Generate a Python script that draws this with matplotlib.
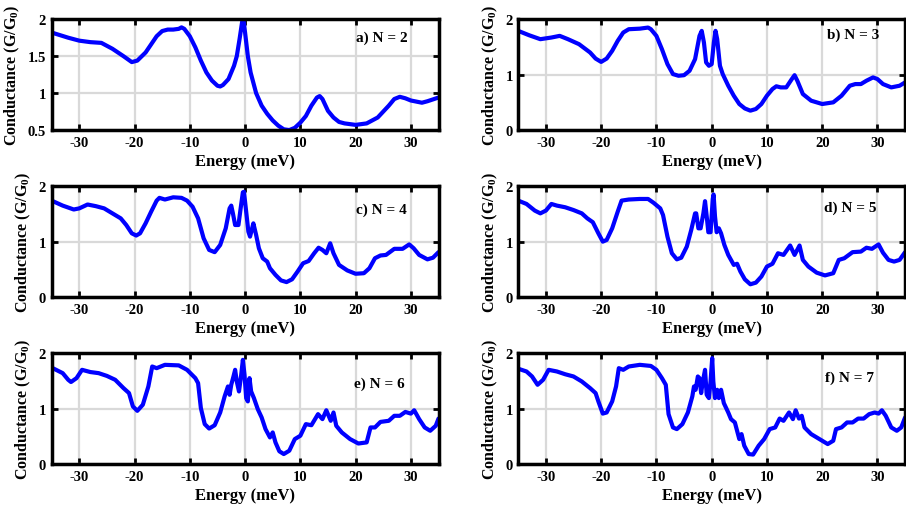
import matplotlib
matplotlib.use("Agg")
import matplotlib.pyplot as plt
import numpy as np

plt.rcParams['font.family'] = 'Liberation Serif'
plt.rcParams['font.weight'] = 'bold'
plt.rcParams['axes.unicode_minus'] = False
plt.rcParams['mathtext.fontset'] = 'custom'
plt.rcParams['mathtext.rm'] = 'Liberation Serif:bold'
plt.rcParams['mathtext.it'] = 'Liberation Serif:bold'
plt.rcParams['mathtext.bf'] = 'Liberation Serif:bold'

# conductance traces, energy in meV, G in units of G0
e_n2 = [-35, -32, -30, -28, -26, -24, -22, -20.5, -19.5, -18, -16, -15, -14, -13, -12, -11.5, -11,
        -10, -9, -8, -7, -6, -5, -4.5, -4, -3, -2, -1.5, -1, -0.5, -0.3, 0, 0.5, 1, 2, 3, 4, 5, 6,
        7, 8, 9, 10, 11, 12, 13, 13.5, 14, 15, 16, 17, 18, 20, 22, 24, 26, 27, 28, 29, 30, 32, 33, 35]
g_n2 = [1.82, 1.75, 1.71, 1.69, 1.68, 1.60, 1.50, 1.42, 1.44, 1.55, 1.77, 1.84, 1.86, 1.86, 1.87,
        1.89, 1.87, 1.77, 1.62, 1.44, 1.28, 1.17, 1.10, 1.09, 1.11, 1.19, 1.37, 1.50, 1.73, 1.98,
        2.00, 1.82, 1.50, 1.28, 1.00, 0.83, 0.72, 0.63, 0.56, 0.51, 0.50, 0.53, 0.60, 0.69, 0.83,
        0.94, 0.96, 0.92, 0.76, 0.67, 0.61, 0.59, 0.57, 0.59, 0.67, 0.83, 0.92, 0.95, 0.93, 0.90,
        0.87, 0.89, 0.94]

e_n3 = [-35, -33, -31, -29, -27.5, -26, -24, -22, -21, -20, -19, -18, -17, -16, -15, -13, -11.5,
        -11, -10, -9, -8, -7, -6, -5, -4, -3, -2.2, -1.8, -1.4, -1, -0.5, 0, 0.4, 0.7, 1, 1.5, 2,
        3, 4, 5, 6, 7, 8, 9, 10, 11, 11.7, 12.5, 13.5, 14.5, 15, 15.5, 16.5, 18, 20, 22, 23.5, 25,
        26, 27, 28, 29.2, 30, 31, 32.5, 34, 35]
g_n3 = [1.79, 1.71, 1.64, 1.67, 1.70, 1.64, 1.55, 1.40, 1.29, 1.23, 1.29, 1.43, 1.61, 1.76, 1.82,
        1.83, 1.85, 1.82, 1.70, 1.46, 1.19, 1.01, 0.98, 0.99, 1.07, 1.28, 1.70, 1.79, 1.58, 1.22,
        1.16, 1.19, 1.58, 1.79, 1.64, 1.16, 1.01, 0.80, 0.62, 0.47, 0.39, 0.35, 0.38, 0.47, 0.62,
        0.74, 0.79, 0.77, 0.77, 0.92, 0.99, 0.89, 0.65, 0.53, 0.47, 0.50, 0.62, 0.80, 0.83, 0.83,
        0.89, 0.95, 0.92, 0.83, 0.77, 0.80, 0.86]

e_n4 = [-35, -33, -31, -30, -28.5, -27, -25.5, -24, -22.5, -21.5, -20.5, -19.7, -19, -18, -17, -16,
        -15.5, -14.5, -13, -11.5, -10.5, -9.5, -8.5, -7.5, -6.5, -5.5, -4.5, -3.5, -2.8, -2.5, -2.2,
        -1.8, -1.2, -0.8, -0.4, -0.2, 0.2, 0.6, 0.9, 1.2, 1.5, 2, 2.5, 3.2, 4, 4.5, 5.5, 6.5, 7.5,
        8.5, 9.5, 10.5, 11.5, 12.5, 13.3, 14, 14.7, 15.4, 16, 17, 18.5, 20, 21.5, 22.5, 23.5, 24.5,
        25.5, 27, 28.5, 29.7, 30.5, 31.5, 33, 34, 35]
g_n4 = [1.74, 1.65, 1.58, 1.60, 1.67, 1.64, 1.60, 1.51, 1.42, 1.30, 1.15, 1.11, 1.15, 1.33, 1.54,
        1.74, 1.79, 1.76, 1.80, 1.79, 1.74, 1.63, 1.42, 1.06, 0.85, 0.81, 0.94, 1.24, 1.60, 1.65,
        1.51, 1.30, 1.30, 1.60, 1.89, 1.90, 1.54, 1.18, 1.09, 1.21, 1.33, 1.12, 0.88, 0.70, 0.64,
        0.52, 0.40, 0.30, 0.27, 0.32, 0.46, 0.61, 0.65, 0.79, 0.89, 0.85, 0.79, 0.97, 0.79, 0.58,
        0.48, 0.42, 0.43, 0.52, 0.70, 0.75, 0.76, 0.87, 0.87, 0.95, 0.88, 0.76, 0.68, 0.71, 0.81]

e_n5 = [-35, -33.5, -32, -31, -30, -29, -28, -26.5, -25, -23.5, -22.5, -21.5, -20.5, -19.7, -19,
        -18, -17, -16.3, -15, -13, -11.5, -10.5, -9.3, -8.8, -8, -7.2, -6.3, -5.5, -4.5, -3.7, -3,
        -2.8, -2.4, -2, -1.5, -1.2, -0.9, -0.6, -0.2, 0.2, 0.35, 0.6, 0.9, 1.3, 1.7, 2.3, 3, 4, 4.6,
        5.2, 6, 7, 8, 9, 10, 11, 12, 13, 14.2, 15, 15.9, 16.5, 17.5, 19, 20.5, 22, 23, 24, 25.5, 27,
        28, 29, 30.2, 31, 32, 33, 34, 35]
g_n5 = [1.74, 1.68, 1.56, 1.51, 1.56, 1.68, 1.65, 1.62, 1.57, 1.51, 1.42, 1.35, 1.15, 1.00, 1.03,
        1.24, 1.54, 1.74, 1.76, 1.77, 1.77, 1.70, 1.60, 1.48, 1.09, 0.79, 0.68, 0.71, 0.91, 1.21,
        1.51, 1.51, 1.24, 1.24, 1.51, 1.73, 1.46, 1.17, 1.17, 1.77, 1.85, 1.46, 1.17, 1.24, 1.15,
        0.94, 0.76, 0.58, 0.60, 0.46, 0.32, 0.23, 0.26, 0.37, 0.55, 0.60, 0.79, 0.76, 0.93, 0.76,
        0.93, 0.67, 0.55, 0.44, 0.39, 0.43, 0.67, 0.70, 0.81, 0.82, 0.89, 0.87, 0.95, 0.80, 0.67,
        0.64, 0.67, 0.81]

e_n6 = [-35, -33, -32, -31.5, -30.5, -29.5, -28, -26.5, -25, -23.5, -22, -21, -20.3, -19.5, -18.5,
        -17.5, -16.8, -16, -14.5, -12, -10.5, -9, -8.5, -8, -7.3, -6.5, -5.5, -4.5, -3.7, -3.1,
        -2.8, -2.5, -2.1, -1.8, -1.5, -1.1, -0.7, -0.4, -0.1, 0.2, 0.5, 0.8, 1.1, 1.6, 2.3, 3, 3.7,
        4.5, 5, 5.5, 6.2, 7, 8, 9, 10, 11, 12, 13.2, 14, 14.7, 15.5, 16, 16.5, 17.5, 19, 20.5, 22,
        22.7, 23.5, 24.5, 26, 27, 28, 29, 30, 30.6, 31.5, 32.5, 33.5, 34.5, 35]
g_n6 = [1.74, 1.64, 1.52, 1.48, 1.55, 1.70, 1.66, 1.64, 1.59, 1.52, 1.37, 1.28, 1.04, 0.96, 1.07,
        1.40, 1.76, 1.73, 1.79, 1.78, 1.70, 1.55, 1.46, 1.01, 0.72, 0.64, 0.70, 0.93, 1.22, 1.40,
        1.25, 1.43, 1.58, 1.70, 1.49, 1.31, 1.61, 1.88, 1.61, 1.19, 1.13, 1.55, 1.31, 1.19, 0.99,
        0.84, 0.63, 0.48, 0.57, 0.39, 0.23, 0.18, 0.24, 0.45, 0.51, 0.72, 0.70, 0.90, 0.81, 0.97,
        0.78, 0.93, 0.69, 0.57, 0.45, 0.37, 0.39, 0.66, 0.66, 0.76, 0.78, 0.87, 0.87, 0.94, 0.91,
        0.97, 0.81, 0.66, 0.60, 0.69, 0.82]

e_n7 = [-35, -33.5, -32.5, -31.5, -30.5, -29.5, -28, -26.5, -25, -23.5, -22, -21, -20.5, -19.7, -19,
        -18, -17.3, -16.8, -16, -15, -13, -11, -10, -9, -8.3, -7.8, -7, -6.3, -5.3, -4.3, -3.5,
        -3.2, -2.9, -2.5, -2.2, -1.9, -1.6, -1.2, -0.9, -0.5, -0.2, 0.1, 0.3, 0.6, 1, 1.3, 1.7,
        2.2, 3, 3.5, 4.2, 5, 5.4, 5.9, 6.7, 7.5, 8.5, 9.5, 10.5, 11.5, 12.3, 13, 14, 14.7, 15.2,
        15.8, 16.3, 16.8, 18, 19.5, 21, 22, 22.5, 23.5, 24.5, 25.5, 26.5, 27.5, 28.5, 29.5, 30.2,
        30.8, 31.5, 32.5, 33.5, 34.3, 35]
g_n7 = [1.72, 1.67, 1.58, 1.43, 1.52, 1.70, 1.67, 1.62, 1.58, 1.49, 1.37, 1.28, 1.13, 0.91, 0.93,
        1.13, 1.40, 1.73, 1.70, 1.76, 1.79, 1.77, 1.70, 1.55, 1.43, 0.90, 0.66, 0.63, 0.72, 0.93,
        1.22, 1.40, 1.34, 1.58, 1.55, 1.28, 1.49, 1.70, 1.25, 1.19, 1.49, 1.91, 1.49, 1.19, 1.34,
        1.19, 1.34, 1.10, 0.93, 0.81, 0.75, 0.45, 0.54, 0.33, 0.18, 0.17, 0.33, 0.45, 0.63, 0.66,
        0.82, 0.78, 0.93, 0.81, 0.97, 0.82, 0.87, 0.66, 0.54, 0.45, 0.36, 0.42, 0.63, 0.66, 0.75,
        0.75, 0.82, 0.82, 0.90, 0.93, 0.91, 0.97, 0.87, 0.66, 0.60, 0.66, 0.84]

energies = [e_n2, e_n3, e_n4, e_n5, e_n6, e_n7]
conductances = [g_n2, g_n3, g_n4, g_n5, g_n6, g_n7]
panel_labels = ["a) N = 2", "b) N = 3", "c) N = 4", "d) N = 5", "e) N = 6", "f) N = 7"]

# label placement (energy, fraction of axes height) for each panel
label_pos = [(20, 0.84), (20.9, 0.86), (20, 0.79), (20.4, 0.81), (19.7, 0.73), (20.5, 0.78)]

fig = plt.figure(figsize=(9.06, 5.06), dpi=100)
lefts = [0.057, 0.572]
bottoms = [0.741, 0.411, 0.081]

for i in range(6):
    row, col = i // 2, i % 2
    ax = fig.add_axes([lefts[col], bottoms[row], 0.427, 0.219])
    ax.plot(np.array(energies[i]), np.array(conductances[i]), color='#0000ff', lw=3,
            solid_joinstyle='round', solid_capstyle='round')
    ax.set_xlim(-35, 35)
    ax.set_xticks([-30, -20, -10, 0, 10, 20, 30])
    if i == 0:
        ax.set_ylim(0.5, 2)
        ax.set_yticks([0.5, 1, 1.5, 2])
        ax.set_yticklabels(['0.5', '1', '1.5', '2'])
    else:
        ax.set_ylim(0, 2)
        ax.set_yticks([0, 1, 2])
    ax.grid(True, color='#d9d9d9', lw=1.6)
    ax.set_axisbelow(True)
    ax.tick_params(direction='in', length=4, width=2, top=True, right=True,
                   labelsize=10.5, pad=4)
    for sp in ax.spines.values():
        sp.set_linewidth(2.5)
    ax.set_xlabel("Energy (meV)", fontsize=12, fontweight='bold', labelpad=3)
    ax.set_ylabel("Conductance (G/G$_0$)", fontsize=11.5, fontweight='bold', labelpad=4)
    ex, fy = label_pos[i]
    ax.text(ex, fy, panel_labels[i], transform=ax.get_xaxis_transform(),
            fontsize=11, fontweight='bold', va='center', ha='left')

fig.savefig("out.png", dpi=100)
